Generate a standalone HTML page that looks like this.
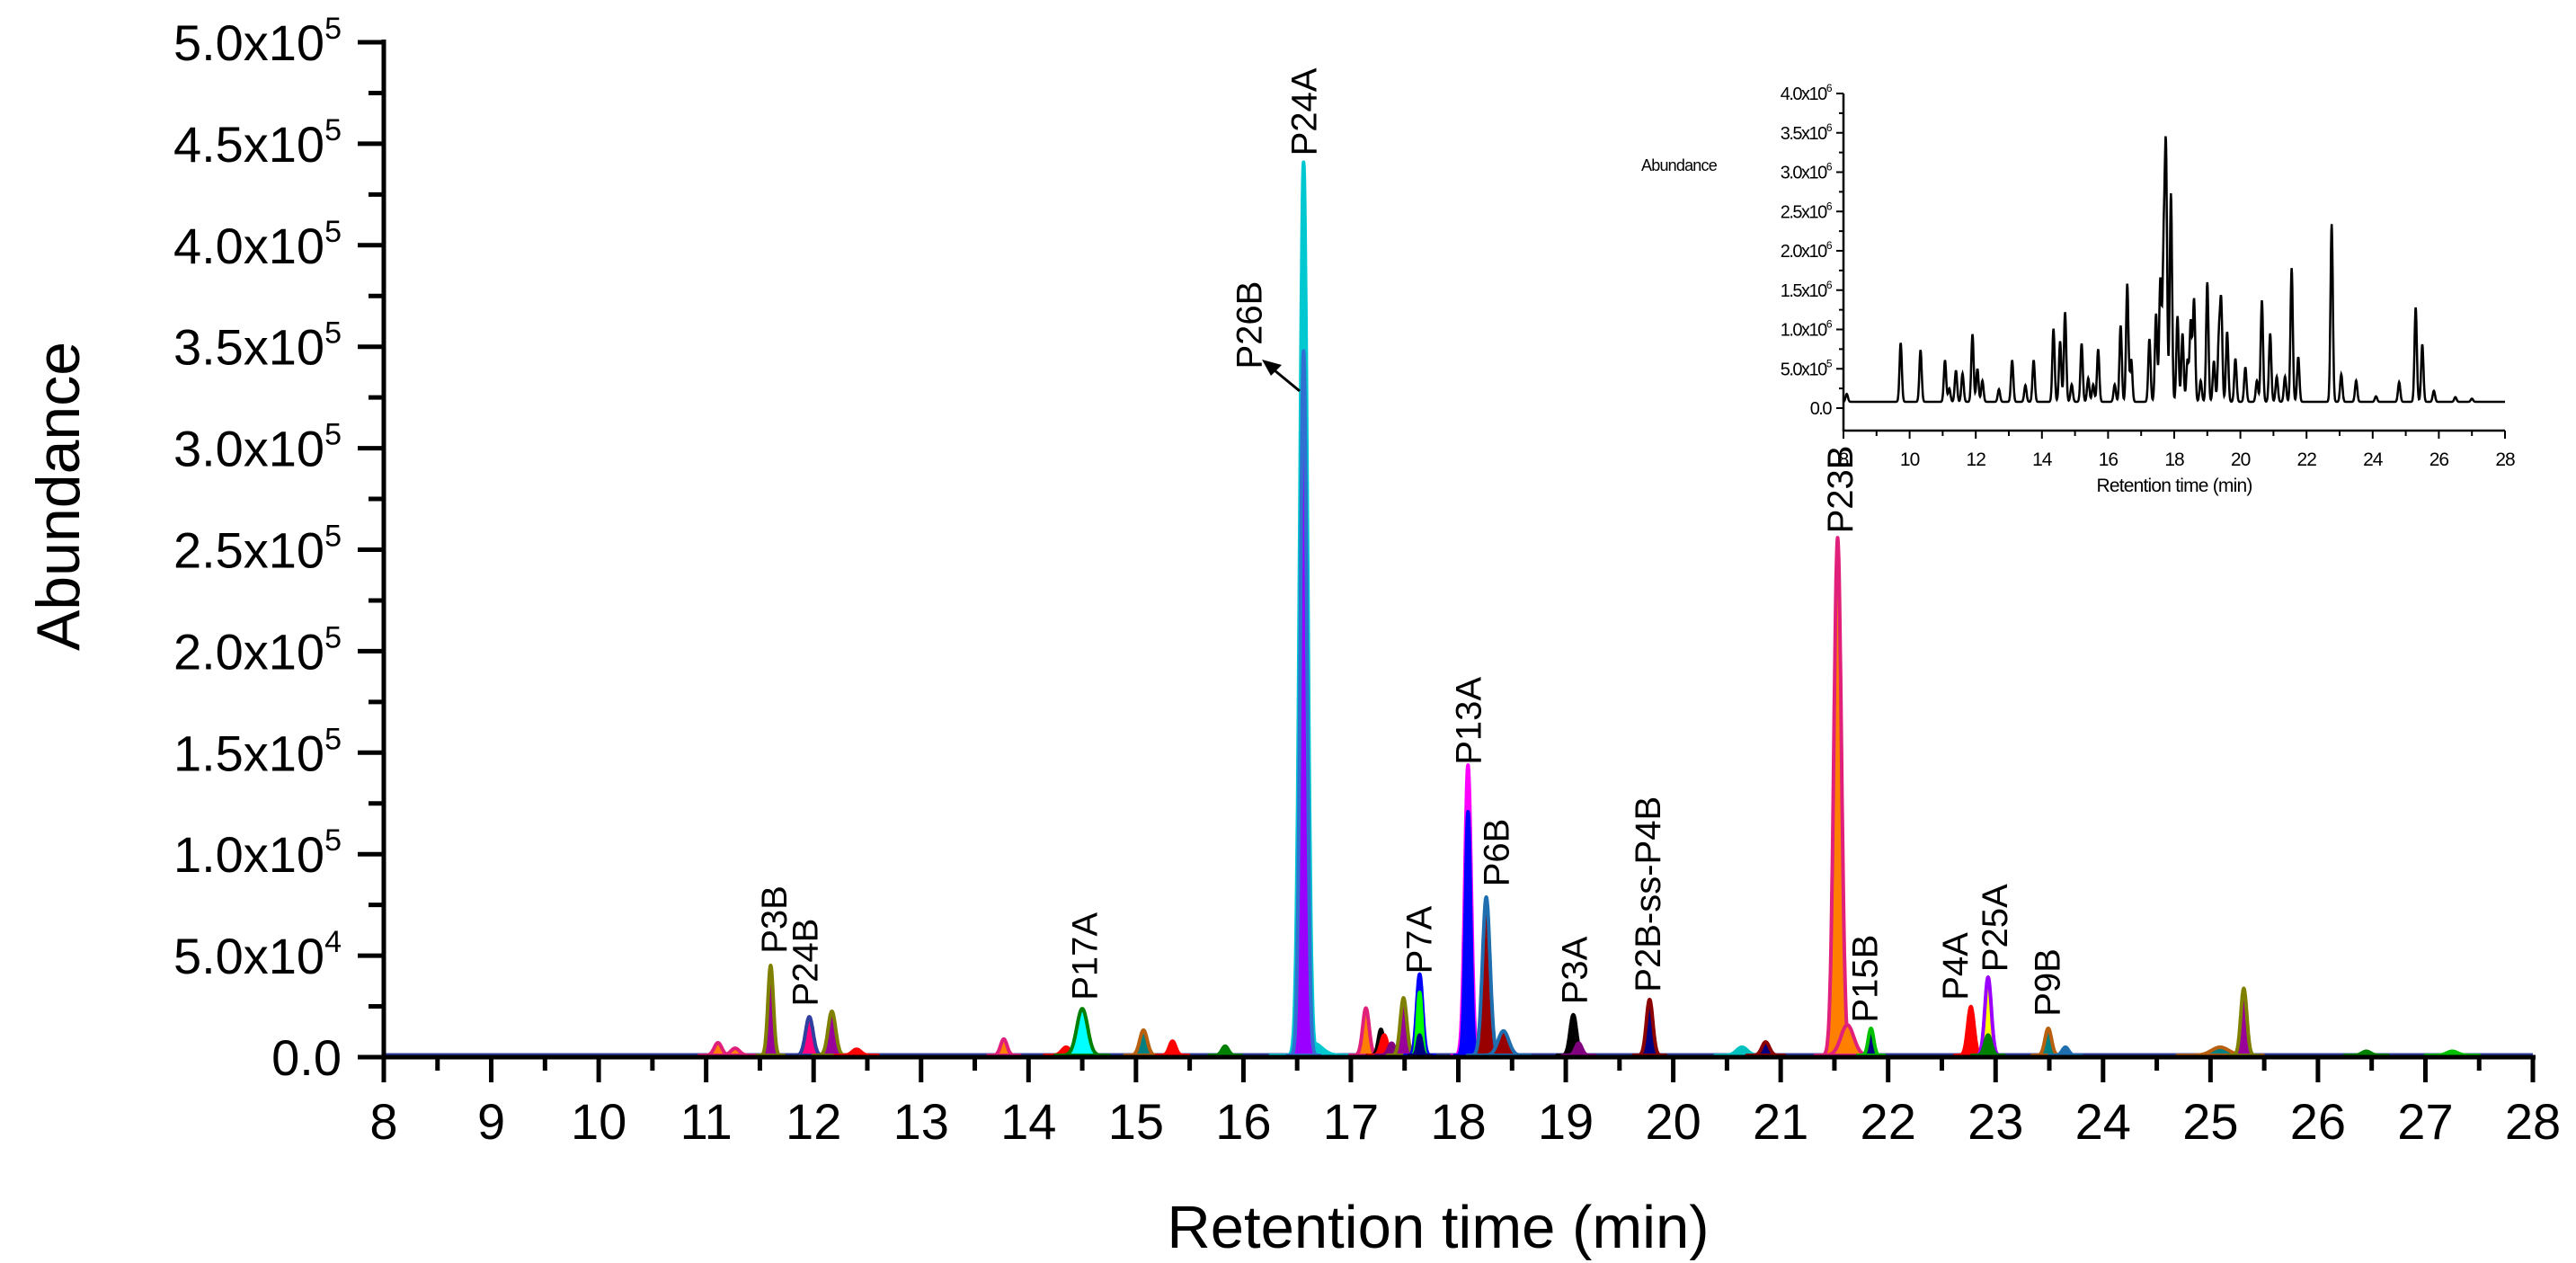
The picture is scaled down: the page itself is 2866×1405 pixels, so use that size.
<!DOCTYPE html>
<html><head><meta charset="utf-8"><style>
html,body{margin:0;padding:0;background:#fff;}
svg{display:block;font-family:"Liberation Sans",Arial,sans-serif;}
</style></head><body>
<svg id="chart" xmlns="http://www.w3.org/2000/svg" width="2866" height="1405" viewBox="0 0 2866 1405">
<rect width="2866" height="1405" fill="#fff"/>
<g id="main-peaks"></g>
<g id="main-axes"></g>
<g id="labels"></g>
<g id="inset"></g>
<text x="1600" y="1388" font-size="67" text-anchor="middle">Retention time (min)</text>
<text x="0" y="0" font-size="68" text-anchor="middle" transform="translate(88,552) rotate(-90)">Abundance</text>
<line x1="1446" y1="435" x2="1418" y2="412" stroke="#000" stroke-width="3"/>
<polygon points="1404,400 1426,406 1414,418" fill="#000"/>
</svg>
<script>
// ---- main chart data ----
const peakTimes   = [11.11,11.27,11.60,11.96,12.17,12.40,13.77,14.35,14.50,15.07,15.34,15.83,16.56,16.65,16.56,17.14,17.28,17.31,17.38,17.49,17.64,17.64,17.64,18.09,18.09,18.26,18.42,19.07,19.12,19.78,20.64,20.86,21.53,21.62,21.84,22.77,22.93,22.93,23.49,23.65,25.09,25.31,26.45,27.25];
const peakHeights = [0.62,0.35,4.43,1.9,2.17,0.3,0.8,0.4,2.3,1.24,0.7,0.45,44.0,0.6,34.7,2.33,1.28,1.0,0.6,2.83,4.0,3.1,1.0,14.3,12.0,7.8,1.2,2.0,0.6,2.75,0.4,0.66,25.5,1.5,1.33,2.4,3.85,1.0,1.33,0.4,0.4,3.3,0.2,0.2]; // x1e4
const peakWidths  = [0.035,0.04,0.025,0.035,0.035,0.04,0.03,0.04,0.05,0.035,0.03,0.03,0.035,0.08,0.03,0.03,0.025,0.03,0.03,0.03,0.028,0.02,0.02,0.03,0.025,0.035,0.05,0.03,0.03,0.03,0.05,0.035,0.035,0.06,0.025,0.03,0.03,0.03,0.03,0.03,0.08,0.028,0.04,0.05];
const peakFills   = ["#ff8000","#ff8000","#990099","#ff0080","#990099","#ff0000","#ff8000","#ff0000","#00ffff","#008080","#ff0000","#008000","#00c8d0","#00c8d0","#9900ff","#ff8000","#000000","#ff0000","#800080","#990099","#0000ff","#00ff00","#000080","#ff00ff","#0000ff","#990000","#990000","#000000","#800080","#000080","#00c0c0","#000080","#ff8000","#ff8000","#000080","#ff0000","#ffff00","#008000","#008080","#1f6fb0","#008080","#990099","#008000","#00c000"];
const peakStrokes = ["#e0207a","#e0207a","#808000","#2f3f9f","#808000","#ff0000","#e0207a","#ff0000","#008000","#b86010","#ff0000","#008000","#00c8d0","#00c8d0","#3070d0","#e0207a","#000000","#ff0000","#800080","#808000","#0000ff","#00ff00","#000080","#ff00ff","#0000ff","#1f6fb0","#1f6fb0","#000000","#800080","#8b0000","#00c0c0","#8b0000","#e0207a","#e0207a","#00c000","#ff0000","#9900ff","#008000","#b86010","#1f6fb0","#b86010","#808000","#008000","#00c000"];
const yTickValues = [0,0.5,1.0,1.5,2.0,2.5,3.0,3.5,4.0,4.5,5.0]; // x1e5
const xTickValues = [8,9,10,11,12,13,14,15,16,17,18,19,20,21,22,23,24,25,26,27,28];
const labelTexts  = ["P3B","P24B","P17A","P24A","P26B","P7A","P13A","P6B","P3A","P2B-ss-P4B","P23B","P15B","P4A","P25A","P9B"];
const labelTimes  = [11.63,11.92,14.52,16.56,16.05,17.63,18.09,18.35,19.08,19.76,21.55,21.78,22.62,22.99,23.48];
const labelValues = [5.1,2.5,2.8,44.4,33.9,4.1,14.4,8.4,2.6,3.2,25.8,1.7,2.8,4.2,2.0]; // x1e4, bottom of label
// ---- inset data ----
const insetTimes   = [8.1,9.73,10.33,11.07,11.2,11.4,11.6,11.9,12.05,12.2,12.7,13.1,13.5,13.75,14.35,14.55,14.7,14.9,15.2,15.4,15.55,15.7,16.2,16.38,16.58,16.7,17.25,17.45,17.58,17.68,17.75,17.9,18.1,18.25,18.4,18.5,18.6,18.8,19.0,19.2,19.35,19.42,19.6,19.85,20.15,20.5,20.65,20.9,21.1,21.35,21.55,21.75,22.76,23.05,23.5,24.1,24.8,25.3,25.5,25.85,26.5,27.0];
const insetHeights = [0.1,0.75,0.66,0.53,0.17,0.4,0.36,0.86,0.42,0.27,0.16,0.53,0.21,0.53,0.93,0.77,1.14,0.22,0.74,0.3,0.22,0.67,0.22,0.97,1.5,0.54,0.8,1.12,1.55,1.82,3.08,2.65,1.09,0.87,0.52,1.02,1.3,0.27,1.52,0.52,0.77,1.23,0.89,0.55,0.44,0.27,1.29,0.87,0.32,0.32,1.7,0.57,2.26,0.35,0.27,0.07,0.25,1.2,0.73,0.14,0.06,0.04]; // x1e6 above baseline
const insetBaseline = 0.08;
const insetYTicks = [0,0.5,1.0,1.5,2.0,2.5,3.0,3.5,4.0];
const insetXTicks = [8,10,12,14,16,18,20,22,24,26,28];

const NS="http://www.w3.org/2000/svg";
function mk(tag,attrs,parent){const e=document.createElementNS(NS,tag);for(const k in attrs)e.setAttribute(k,attrs[k]);parent.appendChild(e);return e;}
const X0=427,X1=2818,Y0=1176,Y5=47;
function xs(t){return X0+(t-8)*(X1-X0)/20;}
function ys(v4){return Y0-(v4/50)*(Y0-Y5);}
const gp=document.getElementById('main-peaks');
const base=mk('line',{x1:X0,y1:Y0-2,x2:X1,y2:Y0-2,stroke:'#3040a0','stroke-width':5},gp);


for(let i=0;i<peakTimes.length;i++){
  const t0=peakTimes[i],h=peakHeights[i],s=peakWidths[i];
  let d='M'+xs(t0-5*s).toFixed(1)+','+(Y0-2);
  for(let k=-50;k<=50;k++){const t=t0+k*s/10;const v=h*Math.exp(-0.5*(k/10)*(k/10));d+=' L'+xs(t).toFixed(1)+','+(ys(v)-2).toFixed(1);}
  d+=' Z';
  const p=mk('path',{d:d,fill:peakFills[i],stroke:peakStrokes[i],'stroke-width':4,'stroke-linejoin':'round'},gp);
  
  
}
const ga=document.getElementById('main-axes');
const yax=mk('line',{x1:X0,y1:Y5-3,x2:X0,y2:Y0+3,stroke:'#000','stroke-width':5},ga);


const xax=mk('line',{x1:X0-3,y1:Y0,x2:X1+3,y2:Y0,stroke:'#000','stroke-width':5},ga);


yTickValues.forEach((v,i)=>{
  const y=ys(v*10);
  mk('line',{x1:X0-29,y1:y,x2:X0,y2:y,stroke:'#000','stroke-width':5},ga);
  if(i<yTickValues.length-1){const ym=ys(v*10+2.5);mk('line',{x1:X0-17,y1:ym,x2:X0,y2:ym,stroke:'#000','stroke-width':5},ga);}
  const tx=mk('text',{x:380,y:y+20,'font-size':56,'text-anchor':'end'},ga);
  
  
  if(v===0){tx.textContent='0.0';}
  else{
    const mant=(v<1?v*10:v).toFixed(1);const ex=(v<1?'4':'5');
    const a=document.createElementNS(NS,'tspan');a.textContent=mant+'x10';tx.appendChild(a);
    const b=document.createElementNS(NS,'tspan');b.setAttribute('dy','-24');b.setAttribute('font-size','34');b.textContent=ex;tx.appendChild(b);
  }
});
xTickValues.forEach((t,i)=>{
  const x=xs(t);
  mk('line',{x1:x,y1:Y0,x2:x,y2:Y0+28,stroke:'#000','stroke-width':5},ga);
  if(i<xTickValues.length-1){const xm=xs(t+0.5);mk('line',{x1:xm,y1:Y0,x2:xm,y2:Y0+15,stroke:'#000','stroke-width':5},ga);}
  const tx=mk('text',{x:x,y:1267,'font-size':56,'text-anchor':'middle'},ga);
  
  
  tx.textContent=String(t);
});
const gl=document.getElementById('labels');
labelTexts.forEach((s,i)=>{
  const x=xs(labelTimes[i])+14,y=ys(labelValues[i]);
  const tx=mk('text',{x:0,y:0,'font-size':40,transform:'translate('+x.toFixed(1)+','+y.toFixed(1)+') rotate(-90)'},gl);
  
  
  tx.textContent=s;
});
// inset
const gi=document.getElementById('inset');
const IX0=2051,IPM=36.8,IY0=454,IPU=87.5,IXA=479;
function ixs(t){return IX0+(t-8)*IPM;}
function iys(v){return IY0-v*IPU;}
let d='';
for(let t=8;t<=28.0001;t+=0.01){
  let v=insetBaseline;
  for(let j=0;j<insetTimes.length;j++){const z=(t-insetTimes[j])/0.035;if(Math.abs(z)<6)v+=insetHeights[j]*Math.exp(-0.5*z*z);}
  d+=(d?' L':'M')+ixs(t).toFixed(1)+','+iys(v).toFixed(1);
}
const tr=mk('path',{d:d,fill:'none',stroke:'#000','stroke-width':2.5},gi);


const iya=mk('line',{x1:IX0,y1:iys(4),x2:IX0,y2:IXA+1,stroke:'#000','stroke-width':2.5},gi);


const ixa=mk('line',{x1:IX0,y1:IXA,x2:ixs(28),y2:IXA,stroke:'#000','stroke-width':2.5},gi);


insetYTicks.forEach((v,i)=>{
  const y=iys(v);
  mk('line',{x1:IX0-8,y1:y,x2:IX0,y2:y,stroke:'#000','stroke-width':2},gi);
  if(i<insetYTicks.length-1){const ym=iys(v+0.25);mk('line',{x1:IX0-5,y1:ym,x2:IX0,y2:ym,stroke:'#000','stroke-width':2},gi);}
  const tx=mk('text',{x:IX0-14,y:y+7,'font-size':20,'text-anchor':'end','letter-spacing':'-1.5'},gi);
  
  
  if(v===0){tx.textContent='0.0';}
  else{
    const mant=(v<1?v*10:v).toFixed(1);const ex=(v<1?'5':'6');
    const a=document.createElementNS(NS,'tspan');a.textContent=mant+'x10';tx.appendChild(a);
    const b=document.createElementNS(NS,'tspan');b.setAttribute('dy','-9');b.setAttribute('font-size','12');b.textContent=ex;tx.appendChild(b);
  }
});
insetXTicks.forEach((t,i)=>{
  const x=ixs(t);
  mk('line',{x1:x,y1:IXA,x2:x,y2:IXA+9,stroke:'#000','stroke-width':2},gi);
  if(i<insetXTicks.length-1){const xm=ixs(t+1);mk('line',{x1:xm,y1:IXA,x2:xm,y2:IXA+6,stroke:'#000','stroke-width':2},gi);}
  const tx=mk('text',{x:x,y:518,'font-size':21,'text-anchor':'middle','letter-spacing':'-1'},gi);
  
  
  tx.textContent=String(t);
});
const ixt=mk('text',{x:2419,y:547,'font-size':21,'text-anchor':'middle','letter-spacing':'-0.8'},gi);


ixt.textContent='Retention time (min)';
const iyt=mk('text',{x:1868,y:190,'font-size':18,'text-anchor':'middle','letter-spacing':'-0.8'},gi);


iyt.textContent='Abundance';
</script>
</body></html>
